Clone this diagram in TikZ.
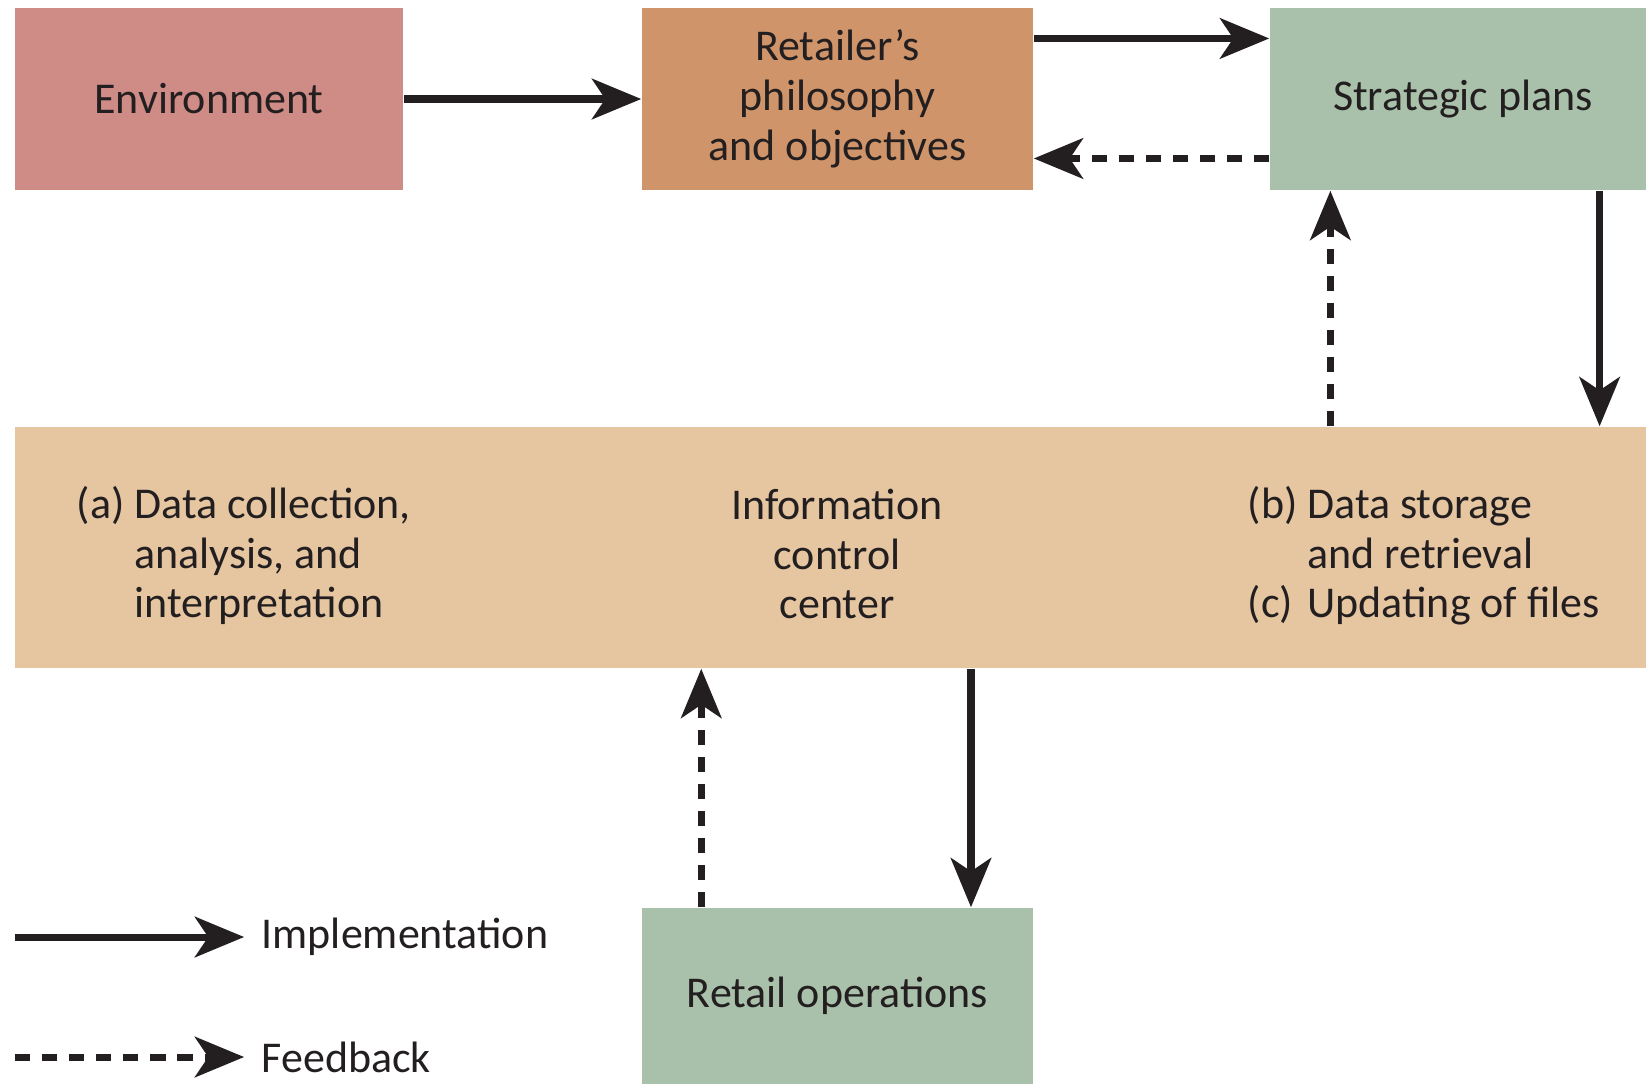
\documentclass[tikz,border=0pt]{standalone}
\usepackage{fontspec}
\setmainfont{Carlito}
\usetikzlibrary{arrows.meta,calc}
\definecolor{envcol}{HTML}{CF8B85}
\definecolor{philcol}{HTML}{CF9469}
\definecolor{plancol}{HTML}{A9C1AA}
\definecolor{infocol}{HTML}{E6C6A1}
\definecolor{inkcol}{HTML}{231F20}
\tikzset{
  box/.style={rectangle, inner sep=0pt, text=inkcol, align=center,
    font=\fontsize{12.5}{14.2}\selectfont},
  impl/.style={draw=inkcol, line width=2pt,
    -{Stealth[length=14pt,width=11.5pt,inset=3.8pt]}},
  feed/.style={impl, dash pattern=on 4.3pt off 3.4pt},
  legtext/.style={anchor=west, inner sep=0pt, text=inkcol,
    font=\fontsize{12.5}{14.2}\selectfont}
}
\begin{document}
\begin{tikzpicture}[x=0.01cm,y=-0.01cm]
\useasboundingbox (0,0) rectangle (1646,1084);

% boxes
\node[box, fill=envcol, minimum width=3.88cm, minimum height=1.82cm] (env) at (209,99) {Environment};
\node[box, fill=philcol, minimum width=3.91cm, minimum height=1.82cm] (phil) at (837.5,99)
  {Retailer’s\\philosophy\\and objectives};
\node[box, fill=plancol, minimum width=3.76cm, minimum height=1.82cm] (plan) at (1458,99)
  {\hspace*{0.1cm}Strategic plans};
\node[box, fill=infocol, minimum width=16.31cm, minimum height=2.41cm] (info) at (830.5,547.5) {};
\node[box, fill=plancol, minimum width=3.91cm, minimum height=1.76cm] (ops) at (837.5,996)
  {Retail operations};

% texts inside the information band
\node[box, anchor=west] (ta) at (76,558)
  {\begin{tabular}{@{}l@{\ }l@{}}(a) & Data collection,\\ & analysis, and\\ & interpretation\end{tabular}};
\node[box] (tc) at (837,554) {Information\\control\\center};
\node[box, anchor=west] (tb) at (1247,558)
  {\begin{tabular}{@{}l@{\ }l@{}}(b) & Data storage\\ & and retrieval\\(c) & Updating of files\end{tabular}};

% connectors
\draw[impl] (env.east) -- (phil.west);
\coordinate (p1) at ($(phil.north east)!0.17!(phil.south east)$);
\draw[impl] (p1) -- (p1 -| plan.west);
\coordinate (p2) at ($(plan.north west)!0.824!(plan.south west)$);
\draw[feed] (p2) -- (p2 -| phil.east);
\coordinate (p3) at ($(plan.south west)!0.875!(plan.south east)$);
\draw[impl] (p3) -- (p3 |- info.north);
\coordinate (p4) at ($(plan.south west)!0.162!(plan.south east)$);
\draw[feed] (p4 |- info.north) -- (p4);
\coordinate (p5) at ($(ops.north west)!0.84!(ops.north east)$);
\draw[impl] (p5 |- info.south) -- (p5);
\coordinate (p6) at ($(ops.north west)!0.153!(ops.north east)$);
\draw[feed] (p6) -- (p6 |- info.south);

% legend
\coordinate (l1) at (15,937);
\node[legtext] (limpl) at (261,937) {Implementation};
\draw[impl] (l1) -- ([xshift=-4.8pt]limpl.west);
\coordinate (l2) at (15,1057);
\node[legtext] (lfeed) at (261,1057) {Feedback};
\draw[feed] (l2) -- ([xshift=-4.8pt]lfeed.west);
\end{tikzpicture}
\end{document}
